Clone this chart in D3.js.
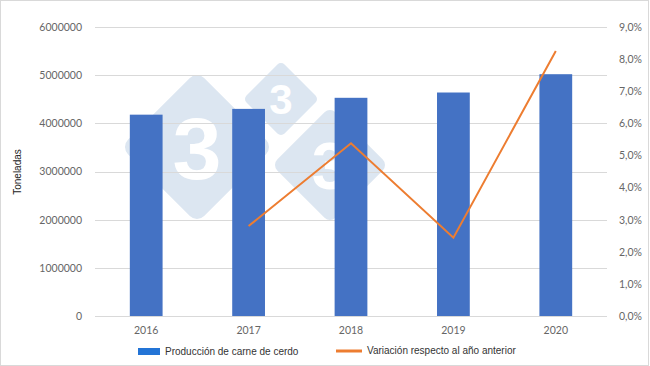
<!DOCTYPE html>
<html><head><meta charset="utf-8">
<script src="https://cdn.jsdelivr.net/npm/d3@7"></script>
<style>body{margin:0;background:#fff}svg{display:block}</style>
</head><body>
<script>
const years = ["2016","2017","2018","2019","2020"];
const production = [4180000, 4300000, 4530000, 4640000, 5020000];
const variationYears = ["2017","2018","2019","2020"];
const variation = [2.8, 5.38, 2.44, 8.25];
const leftTicks = [0,1000000,2000000,3000000,4000000,5000000,6000000];
const rightTicks = [0,1,2,3,4,5,6,7,8,9];
const seriesNames = ["Producción de carne de cerdo","Variación respecto al año anterior"];
const yTitle = "Toneladas";

const W=650,H=366;
const svg=d3.select("body").append("svg").attr("width",W).attr("height",H);
svg.append("rect").attr("x",0.5).attr("y",0.5).attr("width",W-2).attr("height",H-1)
  .attr("fill","#fff").attr("stroke","#d9d9d9");

const x=d3.scaleBand().domain(years).range([95,607]).paddingInner(0.68).paddingOuter(0.34);
const yL=d3.scaleLinear().domain([0,6000000]).range([316,27]);
const yR=d3.scaleLinear().domain([0,9]).range([316,27]);

// watermark
const wm=svg.append("g");
function diamond(cx,cy,E,fs){
  const r=E*0.14;
  const s=Math.SQRT2*(E+r*(Math.SQRT2-1));
  const g=wm.append("g").attr("transform",`translate(${cx},${cy}) rotate(45)`);
  g.append("rect").attr("x",-s/2).attr("y",-s/2).attr("width",s).attr("height",s)
   .attr("rx",r).attr("fill","#dce6f1");
  wm.append("text").attr("x",cx).attr("y",cy).attr("dy","0.36em").attr("text-anchor","middle")
   .attr("font-family","Liberation Sans, Arial").attr("font-weight","bold").attr("font-size",fs)
   .attr("fill","#fff").text("3");
}
diamond(197,147,72,88);
diamond(281,99,36,42);
diamond(330,165,55,66);

// gridlines
svg.append("g").selectAll("line").data(leftTicks).join("line")
  .attr("x1",95).attr("x2",607).attr("y1",d=>Math.round(yL(d))+0.5).attr("y2",d=>Math.round(yL(d))+0.5)
  .attr("stroke","#d9d9d9").attr("stroke-width",1);

// bars
svg.append("g").selectAll("rect").data(production).join("rect")
  .attr("x",(d,i)=>x(years[i])).attr("width",x.bandwidth())
  .attr("y",d=>yL(d)).attr("height",d=>yL(0)-yL(d)).attr("fill","#4472C4");

// line
const line=d3.line().x((d,i)=>x(variationYears[i])+x.bandwidth()/2).y(d=>yR(d));
svg.append("path").datum(variation).attr("d",line).attr("fill","none")
  .attr("stroke","#ED7D31").attr("stroke-width",2).attr("stroke-linejoin","miter");

const tickFont="Lato, 'Open Sans', sans-serif";
// left axis
const axL=svg.append("g").attr("transform","translate(95,0)")
  .call(d3.axisLeft(yL).tickValues(leftTicks).tickFormat(d3.format("d")).tickSize(0).tickPadding(13));
axL.select(".domain").remove();
axL.selectAll("text").attr("font-family",tickFont).attr("font-size",10.5).attr("fill","#666");
// right axis
const axR=svg.append("g").attr("transform","translate(607,0)")
  .call(d3.axisRight(yR).tickValues(rightTicks).tickFormat(d=>d.toFixed(1).replace(".",",")+"%").tickSize(0).tickPadding(12));
axR.select(".domain").remove();
axR.selectAll("text").attr("font-family",tickFont).attr("font-size",10.5).attr("fill","#666");
// x axis
const axX=svg.append("g").attr("transform","translate(0,316)")
  .call(d3.axisBottom(x).tickSize(0).tickPadding(11));
axX.select(".domain").remove();
axX.selectAll("text").attr("font-family",tickFont).attr("font-size",10.5).attr("fill","#666");

// y title
svg.append("text").attr("transform","translate(21,172) rotate(-90)").attr("text-anchor","middle")
  .attr("font-family","Liberation Sans, Arial").attr("font-size",10).attr("fill","#222").text(yTitle);

// legend
const lf="Liberation Sans, Arial";
svg.append("rect").attr("x",138).attr("y",348).attr("width",22).attr("height",7).attr("fill","#2374d6");
svg.append("text").attr("x",165).attr("y",355).attr("font-family",lf).attr("font-size",10).attr("fill","#333").text(seriesNames[0]);
svg.append("line").attr("x1",336).attr("x2",362).attr("y1",351).attr("y2",351).attr("stroke","#ED7D31").attr("stroke-width",3);
svg.append("text").attr("x",367).attr("y",354).attr("font-family",lf).attr("font-size",10).attr("fill","#333").text(seriesNames[1]);
</script>
</body></html>
